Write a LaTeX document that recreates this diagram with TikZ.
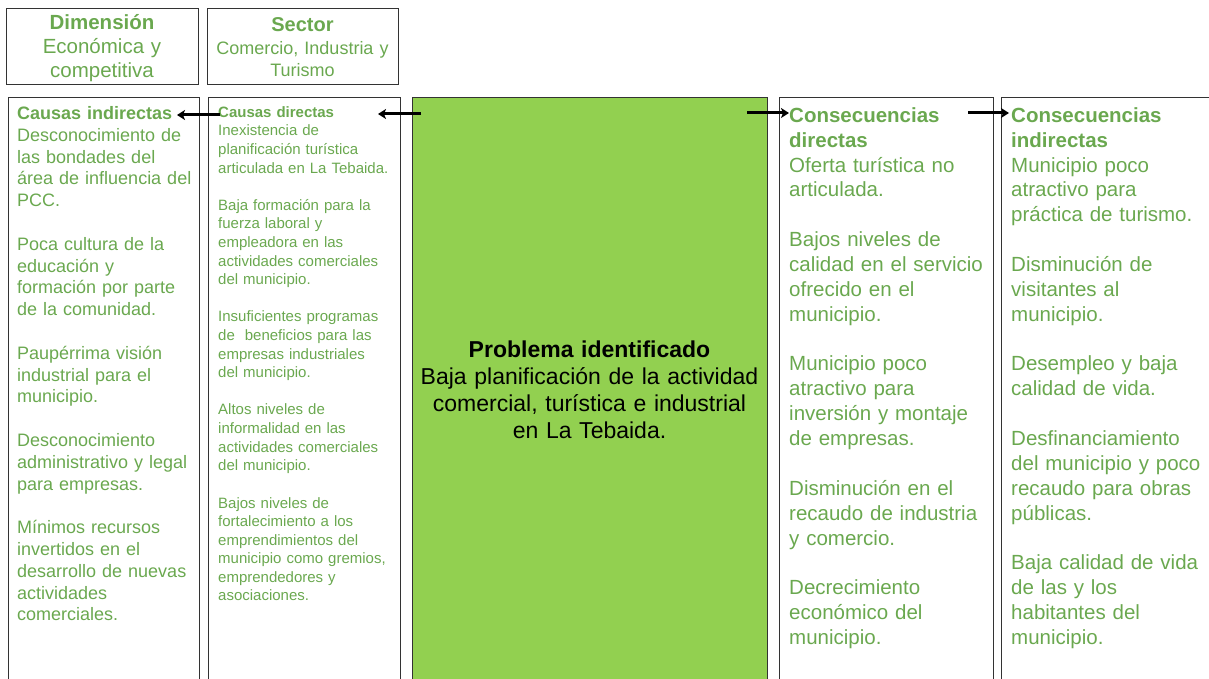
\documentclass[tikz,border=0pt]{standalone}
\usepackage{fontspec}
\setmainfont{Liberation Sans}
\usepackage{xcolor}
\usetikzlibrary{positioning,calc,arrows.meta}
\definecolor{txtgreen}{HTML}{6AA84F}
\definecolor{boxgreen}{HTML}{92D050}

\begin{document}
\begin{tikzpicture}[x=1pt, y=-1pt,
  box/.style={draw=black!80, line width=1.2pt, anchor=north west, inner sep=0pt, minimum height=620pt},
  txt/.style={anchor=base west, inner sep=0pt, align=left, text=txtgreen},
  flow/.style={line width=3pt, -{Stealth[length=8pt, width=10pt, inset=2pt]}}]
  \useasboundingbox (0,0) rectangle (1209,679);
  \clip (0,0) rectangle (1209,679);

  % Header boxes
  \node[box, minimum width=192pt, minimum height=76pt] (dim) at (6,8) {};
  \node[box, minimum width=191pt, minimum height=76pt] (sec) at (207,8) {};
  \node[anchor=base, inner sep=0pt, text width=190pt, align=center, text=txtgreen,
        font=\fontsize{20.5}{24}\selectfont] (dimtxt) at (102,30)
    {{\bfseries Dimensión}\\ Económica y\\ competitiva};
  \node[anchor=base, inner sep=0pt, text width=190pt, align=center, text=txtgreen,
        font=\fontsize{18}{22.5}\selectfont] (sectxt) at (302.5,32)
    {{\fontsize{20}{22.5}\selectfont\bfseries Sector}\\ Comercio, Industria y\\ Turismo};

  % Columns
  \node[box, minimum width=191pt] (ci) at (8,97) {};
  \node[box, minimum width=192pt] (cd) at (208,97) {};
  \node[box, minimum width=355pt, fill=boxgreen] (prob) at (412,97) {};
  \node[box, minimum width=214pt] (qd) at (779,97) {};
  \node[box, minimum width=230pt] (qi) at (1001,97) {};

  % Causas indirectas
  \node[txt, text width=185pt, font=\fontsize{18}{21.8}\selectfont] (citxt) at (17,119.5)
    {{\bfseries Causas indirectas}\\
     Desconocimiento de\\ las bondades del\\ área de influencia del\\ PCC.\\[\baselineskip]
     Poca cultura de la\\ educación y\\ formación por parte\\ de la comunidad.\\[\baselineskip]
     Paupérrima visión\\ industrial para el\\ municipio.\\[\baselineskip]
     Desconocimiento\\ administrativo y legal\\ para empresas.\\[\baselineskip]
     Mínimos recursos\\ invertidos en el\\ desarrollo de nuevas\\ actividades\\ comerciales.};

  % Causas directas
  \node[txt, text width=185pt, font=\fontsize{15}{18.6}\selectfont] (cdtxt) at (218,117.4)
    {{\bfseries Causas directas}\\
     Inexistencia de\\ planificación turística\\ articulada en La Tebaida.\\[\baselineskip]
     Baja formación para la\\ fuerza laboral y\\ empleadora en las\\ actividades comerciales\\ del municipio.\\[\baselineskip]
     Insuficientes programas\\ de\ \ beneficios para las\\ empresas industriales\\ del municipio.\\[\baselineskip]
     Altos niveles de\\ informalidad en las\\ actividades comerciales\\ del municipio.\\[\baselineskip]
     Bajos niveles de\\ fortalecimiento a los\\ emprendimientos del\\ municipio como gremios,\\ emprendedores y\\ asociaciones.};

  % Problema
  \node[anchor=base, inner sep=0pt, text width=350pt, align=center,
        font=\fontsize{23}{27}\selectfont] (probtxt) at (589.5,357)
    {{\bfseries Problema identificado}\\ Baja planificación de la actividad\\
     comercial, turística e industrial\\ en La Tebaida.};

  % Consecuencias directas
  \node[txt, text width=205pt, font=\fontsize{20.5}{24.86}\selectfont] (qdtxt) at (789,122.4)
    {{\bfseries Consecuencias}\\ {\bfseries directas}\\
     Oferta turística no\\ articulada.\\[\baselineskip]
     Bajos niveles de\\ calidad en el servicio\\ ofrecido en el\\ municipio.\\[\baselineskip]
     Municipio poco\\ atractivo para\\ inversión y montaje\\ de empresas.\\[\baselineskip]
     Disminución en el\\ recaudo de industria\\ y comercio.\\[\baselineskip]
     Decrecimiento\\ económico del\\ municipio.};

  % Consecuencias indirectas
  \node[txt, text width=200pt, font=\fontsize{20.5}{24.86}\selectfont] (qitxt) at (1011,122.4)
    {{\bfseries Consecuencias}\\ {\bfseries indirectas}\\
     Municipio poco\\ atractivo para\\ práctica de turismo.\\[\baselineskip]
     Disminución de\\ visitantes al\\ municipio.\\[\baselineskip]
     Desempleo y baja\\ calidad de vida.\\[\baselineskip]
     Desfinanciamiento\\ del municipio y poco\\ recaudo para obras\\ públicas.\\[\baselineskip]
     Baja calidad de vida\\ de las y los\\ habitantes del\\ municipio.};

  % Arrows
  \coordinate (pl) at (421,114);
  \coordinate (cdr) at (378,114);
  \coordinate (cdl) at (220,115);
  \coordinate (cir) at (177,115);
  \coordinate (pr) at (747,113);
  \coordinate (qdl) at (789,113);
  \coordinate (qdr) at (968,113);
  \coordinate (qil) at (1009,113);
  \draw[flow] (pl) -- (cdr);
  \draw[flow] (cdl) -- (cir);
  \draw[flow] (pr) -- (qdl);
  \draw[flow] (qdr) -- (qil);
\end{tikzpicture}
\end{document}
